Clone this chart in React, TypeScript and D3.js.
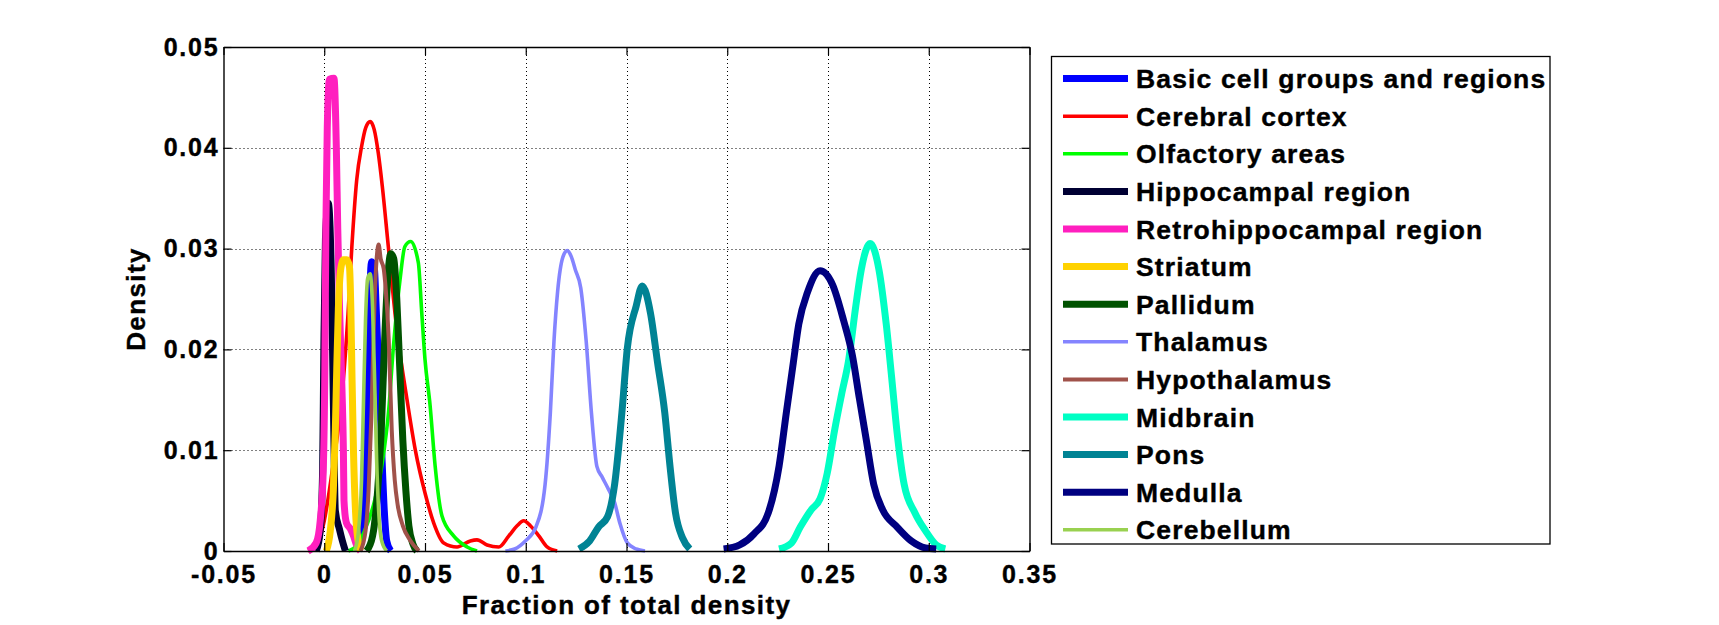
import { useEffect, useRef } from "react";
import * as d3 from "d3";

// tick values and labels
const xTicks = [-0.05, 0, 0.05, 0.1, 0.15, 0.2, 0.25, 0.3, 0.35];
const xTickLabels = ["-0.05", "0", "0.05", "0.1", "0.15", "0.2", "0.25", "0.3", "0.35"];
const yTicks = [0, 0.01, 0.02, 0.03, 0.04, 0.05];
const yTickLabels = ["0", "0.01", "0.02", "0.03", "0.04", "0.05"];

const regionNames = [
  "Basic cell groups and regions", "Cerebral cortex", "Olfactory areas", "Hippocampal region",
  "Retrohippocampal region", "Striatum", "Pallidum", "Thalamus", "Hypothalamus",
  "Midbrain", "Pons", "Medulla", "Cerebellum",
];
const regionColors = [
  "#0000ff", "#ff0000", "#00ff00", "#000033", "#ff1fbf", "#ffd200", "#005200",
  "#8484ff", "#a0524a", "#00ffc4", "#008394", "#000080", "#99d150",
];
const regionWidths = [7, 3.6, 3.6, 7, 7, 7, 7, 3.6, 4, 7, 7, 7, 3.6];

// density curves
const basicX = [0.017, 0.019, 0.0205, 0.0215, 0.0225, 0.0235, 0.0248, 0.0258, 0.027, 0.0285, 0.0298, 0.031, 0.033];
const basicY = [0, 0.002, 0.008, 0.016, 0.025, 0.0287, 0.0282, 0.024, 0.018, 0.01, 0.004, 0.001, 0];

const cortexX = [-0.008, -0.004, 0, 0.004, 0.0075, 0.0095, 0.0118, 0.0137, 0.0161, 0.0186, 0.0206, 0.0228, 0.0248, 0.0268, 0.0288, 0.0318, 0.036, 0.041, 0.0452, 0.0502, 0.0543, 0.0593, 0.0659, 0.0725, 0.0758, 0.0808, 0.0866, 0.0916, 0.0957, 0.099, 0.1023, 0.1065, 0.1106, 0.1156];
const cortexY = [0, 0.0005, 0.003, 0.008, 0.013, 0.017, 0.0235, 0.0302, 0.0368, 0.0402, 0.042, 0.0426, 0.0418, 0.0395, 0.0362, 0.0302, 0.022, 0.0151, 0.01, 0.0056, 0.0028, 0.0008, 0.0004, 0.001, 0.0011, 0.0006, 0.0004, 0.0015, 0.0025, 0.003, 0.0025, 0.0015, 0.0004, 0];

const olfactoryX = [0.012, 0.016, 0.02, 0.025, 0.029, 0.032, 0.0343, 0.0376, 0.04, 0.0429, 0.0467, 0.0484, 0.05, 0.0525, 0.055, 0.0584, 0.0642, 0.0709, 0.0758];
const olfactoryY = [0, 0.0005, 0.002, 0.005, 0.009, 0.014, 0.0202, 0.0269, 0.0302, 0.0307, 0.0286, 0.0236, 0.019, 0.0145, 0.0085, 0.0035, 0.0015, 0.0004, 0];

const hippocampalX = [-0.004, -0.002, -0.0008, -0.0002, 0.0006, 0.002, 0.0035, 0.0045, 0.0055, 0.0075, 0.009, 0.0105];
const hippocampalY = [0, 0.002, 0.008, 0.02, 0.031, 0.0345, 0.0276, 0.015, 0.004, 0.0022, 0.001, 0];

const retroX = [-0.008, -0.004, -0.002, -0.0005, 0.0003, 0.0008, 0.0015, 0.0026, 0.0048, 0.006, 0.0067, 0.0076, 0.0088, 0.0095, 0.0098, 0.011, 0.013, 0.0145, 0.016, 0.018];
const retroY = [0, 0.0008, 0.003, 0.008, 0.018, 0.032, 0.042, 0.0468, 0.0469, 0.04, 0.032, 0.024, 0.016, 0.01, 0.005, 0.0028, 0.0022, 0.0015, 0.0006, 0];

const striatumX = [0.001, 0.003, 0.0045, 0.0055, 0.0062, 0.007, 0.0082, 0.0095, 0.0112, 0.0125, 0.0132, 0.0138, 0.0145, 0.0155, 0.0168, 0.018];
const striatumY = [0, 0.002, 0.006, 0.012, 0.018, 0.024, 0.028, 0.0289, 0.0289, 0.0282, 0.024, 0.017, 0.01, 0.004, 0.001, 0];

const pallidumX = [0.021, 0.024, 0.0265, 0.0285, 0.03, 0.0315, 0.033, 0.0345, 0.036, 0.0375, 0.039, 0.0405, 0.042, 0.044, 0.046];
const pallidumY = [0, 0.0015, 0.006, 0.013, 0.021, 0.027, 0.0295, 0.029, 0.025, 0.018, 0.011, 0.006, 0.0025, 0.0007, 0];

const thalamusX = [0.0899, 0.0945, 0.0998, 0.1051, 0.1096, 0.1122, 0.114, 0.1158, 0.1185, 0.1206, 0.1226, 0.1246, 0.1273, 0.13, 0.1326, 0.1353, 0.138, 0.1406, 0.1441, 0.1468, 0.1504, 0.1548, 0.1592];
const thalamusY = [0, 0.0002, 0.001, 0.0024, 0.0066, 0.0137, 0.0208, 0.0257, 0.0292, 0.0298, 0.0292, 0.0279, 0.0261, 0.0208, 0.0137, 0.0084, 0.0073, 0.0063, 0.0048, 0.0027, 0.0008, 0.0002, 0];

const hypothalamusX = [0.018, 0.0205, 0.022, 0.0235, 0.025, 0.026, 0.027, 0.028, 0.0295, 0.0305, 0.032, 0.0335, 0.035, 0.0365, 0.039, 0.0425, 0.047];
const hypothalamusY = [0, 0.002, 0.006, 0.014, 0.025, 0.029, 0.0304, 0.029, 0.028, 0.026, 0.021, 0.012, 0.007, 0.0045, 0.0025, 0.0011, 0];

const midbrainX = [0.2257, 0.2319, 0.2363, 0.2417, 0.2461, 0.2496, 0.2532, 0.2567, 0.2603, 0.2638, 0.2665, 0.2709, 0.2753, 0.2789, 0.2816, 0.2842, 0.2878, 0.2931, 0.2984, 0.3037, 0.3082];
const midbrainY = [0.0002, 0.0008, 0.0024, 0.0041, 0.0052, 0.0077, 0.0119, 0.0155, 0.019, 0.0243, 0.0279, 0.0305, 0.0279, 0.0225, 0.0172, 0.0119, 0.0066, 0.0038, 0.002, 0.0006, 0.0002];

const ponsX = [0.1264, 0.1317, 0.1362, 0.1406, 0.1441, 0.1477, 0.1504, 0.1548, 0.1578, 0.1619, 0.1654, 0.169, 0.1716, 0.1743, 0.1778, 0.1814];
const ponsY = [0.0002, 0.001, 0.0024, 0.0034, 0.0066, 0.0137, 0.0201, 0.0243, 0.0263, 0.0236, 0.0187, 0.0137, 0.0084, 0.0038, 0.0013, 0.0002];

const medullaX = [0.1982, 0.2062, 0.2133, 0.2204, 0.2257, 0.2293, 0.2328, 0.2355, 0.2399, 0.2461, 0.2523, 0.2577, 0.2621, 0.2656, 0.2691, 0.2727, 0.2771, 0.2842, 0.2913, 0.2984, 0.3037];
const medullaY = [0.0002, 0.0006, 0.0017, 0.0038, 0.0084, 0.0137, 0.0187, 0.0225, 0.0257, 0.0278, 0.0264, 0.0229, 0.0194, 0.0151, 0.0109, 0.0066, 0.0041, 0.0024, 0.001, 0.0003, 0.0002];

const cerebellumX = [0.015, 0.017, 0.0185, 0.0195, 0.0205, 0.0215, 0.0228, 0.024, 0.025, 0.026, 0.027, 0.0285, 0.031];
const cerebellumY = [0, 0.002, 0.007, 0.015, 0.023, 0.027, 0.0275, 0.024, 0.017, 0.009, 0.004, 0.001, 0];

const seriesX = [basicX, cortexX, olfactoryX, hippocampalX, retroX, striatumX, pallidumX, thalamusX, hypothalamusX, midbrainX, ponsX, medullaX, cerebellumX];
const seriesY = [basicY, cortexY, olfactoryY, hippocampalY, retroY, striatumY, pallidumY, thalamusY, hypothalamusY, midbrainY, ponsY, medullaY, cerebellumY];

const FONT = "'Liberation Sans', Arial, Helvetica, sans-serif";

function DensityChart() {
  const ref = useRef<SVGSVGElement>(null);

  useEffect(() => {
    const el = ref.current;
    if (!el) return;
    const W = 1719, H = 625;
    const L = 223.5, R = 1029.5, T = 47, B = 551;
    const svg = d3.select(el).attr("width", W).attr("height", H).attr("viewBox", `0 0 ${W} ${H}`);
    svg.selectAll("*").remove();
    svg.append("rect").attr("width", W).attr("height", H).attr("fill", "#fff");

    const x = d3.scaleLinear().domain([-0.05, 0.35]).range([L, R]);
    const y = d3.scaleLinear().domain([0, 0.05]).range([B, T]);

    // dotted grid
    const grid = svg.append("g").attr("stroke", "#000").attr("stroke-width", 1).attr("stroke-dasharray", "1,3");
    grid.selectAll("line.gx").data(xTicks.slice(1, -1)).join("line")
      .attr("x1", (d) => Math.round(x(d)) + 0.5).attr("x2", (d) => Math.round(x(d)) + 0.5).attr("y1", T).attr("y2", B);
    grid.selectAll("line.gy").data(yTicks.slice(1, -1)).join("line")
      .attr("y1", (d) => Math.round(y(d)) + 0.5).attr("y2", (d) => Math.round(y(d)) + 0.5).attr("x1", L).attr("x2", R);

    // curves, drawn in legend order so later regions sit on top
    const line = d3.line<[number, number]>().x((d) => x(d[0])).y((d) => y(d[1])).curve(d3.curveMonotoneX);
    const curves = svg.append("g").attr("fill", "none").attr("stroke-linejoin", "round").attr("stroke-linecap", "butt");
    seriesX.forEach((xs, i) => {
      const pts = xs.map((v, j) => [v, seriesY[i][j]] as [number, number]);
      curves.append("path").attr("d", line(pts)).attr("stroke", regionColors[i]).attr("stroke-width", regionWidths[i]);
    });

    // axes, MATLAB style: ticks pointing inward on all four sides
    const fmtX = (_: d3.NumberValue, i: number) => xTickLabels[i];
    const fmtY = (_: d3.NumberValue, i: number) => yTickLabels[i];
    const styleAxis = (g: d3.Selection<SVGGElement, unknown, null, undefined>) => {
      g.attr("font-family", FONT).attr("font-size", 25).attr("font-weight", "bold");
      g.selectAll("path.domain").attr("stroke", "#000").attr("stroke-width", 1.4);
      g.selectAll(".tick line").attr("stroke", "#000").attr("stroke-width", 1.2);
      g.selectAll(".tick text").attr("fill", "#000").attr("letter-spacing", 1.8)
        .attr("stroke", "#000").attr("stroke-width", 0.4);
    };
    svg.append("g").attr("transform", `translate(0,${B})`)
      .call(d3.axisBottom(x).tickValues(xTicks).tickFormat(fmtX).tickSize(-8).tickSizeOuter(0).tickPadding(14))
      .call(styleAxis);
    svg.append("g").attr("transform", `translate(0,${T})`)
      .call(d3.axisTop(x).tickValues(xTicks).tickFormat(() => "").tickSize(-8).tickSizeOuter(0))
      .call(styleAxis);
    svg.append("g").attr("transform", `translate(${L},0)`)
      .call(d3.axisLeft(y).tickValues(yTicks).tickFormat(fmtY).tickSize(-8).tickSizeOuter(0).tickPadding(4))
      .call(styleAxis);
    svg.append("g").attr("transform", `translate(${R},0)`)
      .call(d3.axisRight(y).tickValues(yTicks).tickFormat(() => "").tickSize(-8).tickSizeOuter(0))
      .call(styleAxis);

    // axis titles
    const title = (t: d3.Selection<SVGTextElement, unknown, null, undefined>) =>
      t.attr("text-anchor", "middle").attr("font-family", FONT).attr("font-size", 26).attr("font-weight", "bold")
        .attr("letter-spacing", 1.4).attr("stroke", "#000").attr("stroke-width", 0.4);
    svg.append("text").attr("x", (L + R) / 2).attr("y", 614).call(title).text("Fraction of total density");
    svg.append("text").attr("transform", `translate(145,${(T + B) / 2}) rotate(-90)`).call(title).text("Density");

    // legend
    const lx = 1051.5, ly = 56.5, lw = 498.5, lh = 487.5, row = 37.6, first = 78.6;
    const lg = svg.append("g");
    lg.append("rect").attr("x", lx).attr("y", ly).attr("width", lw).attr("height", lh)
      .attr("fill", "#fff").attr("stroke", "#000").attr("stroke-width", 1.3);
    const items = lg.selectAll("g.item").data(regionNames).join("g")
      .attr("transform", (_, i) => `translate(0,${first + i * row})`);
    items.append("line").attr("x1", 1063).attr("x2", 1128).attr("y1", 0).attr("y2", 0)
      .attr("stroke", (_, i) => regionColors[i]).attr("stroke-width", (_, i) => regionWidths[i]);
    items.append("text").attr("x", 1136).attr("y", 9.5)
      .attr("font-family", FONT).attr("font-size", 26.5).attr("font-weight", "bold").attr("letter-spacing", 1.15)
      .attr("fill", "#000").attr("stroke", "#000").attr("stroke-width", 0.4).text((d) => d);
  }, []);

  return <svg ref={ref} style={{ position: "absolute", left: 0, top: 0, display: "block" }} role="img" aria-label="Density of fraction of total density by brain region" />;
}

export default function App() {
  return <DensityChart />;
}
